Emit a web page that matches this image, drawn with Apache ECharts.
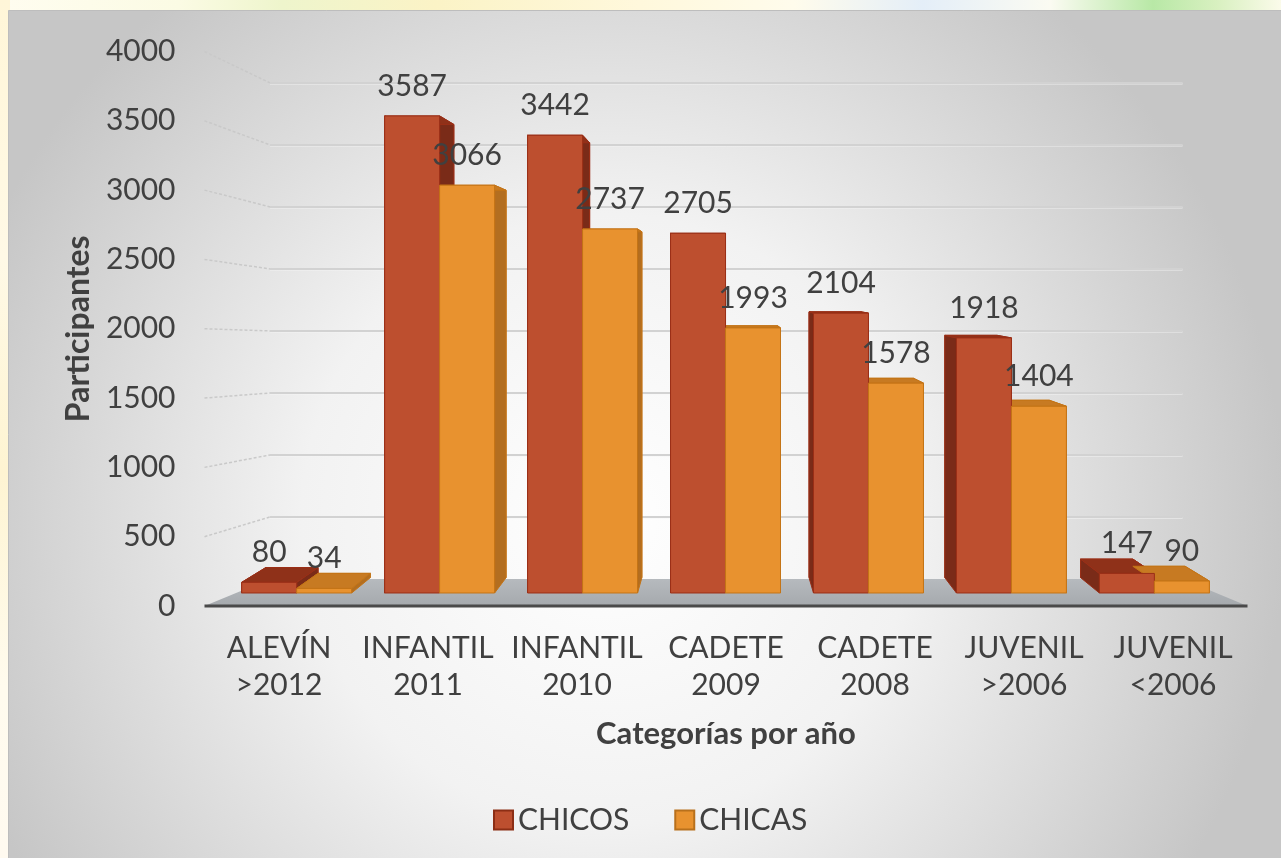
<!DOCTYPE html>
<html>
<head>
<meta charset="utf-8">
<script src="https://cdn.jsdelivr.net/npm/echarts@6.0.0/dist/echarts.min.js"></script>
<style>
  html, body { margin: 0; padding: 0; width: 1281px; height: 858px; overflow: hidden; }
  body {
    background: linear-gradient(90deg, #fffdf0 0%, #fbfbe4 14%, #eef5cc 22%, #fbf3c6 34%, #fff8dc 50%, #fffcec 62%, #e4eef8 72%, #fbfbf2 82%, #b8e8a6 90%, #d8f0c0 95%, #fbfbea 100%);
  }
  #left { position: absolute; left: 0; top: 0; width: 10px; height: 858px;
    background: linear-gradient(180deg, #fff6d8 0%, #fff9e6 30%, #fef4d2 55%, #fffbee 80%, #fffaf0 100%); }
  #main { position: absolute; left: 0; top: 0; width: 1281px; height: 858px; }
</style>
</head>
<body>
<div id="left"></div>
<div id="main"></div>
<script>
// ---------------- data ----------------
const categories = ['ALEVÍN\n>2012', 'INFANTIL\n2011', 'INFANTIL\n2010', 'CADETE\n2009', 'CADETE\n2008', 'JUVENIL\n>2006', 'JUVENIL\n<2006'];
const chicos = [80, 3587, 3442, 2705, 2104, 1918, 147];
const chicas = [34, 3066, 2737, 1993, 1578, 1404, 90];
const yTicks = [0, 500, 1000, 1500, 2000, 2500, 3000, 3500, 4000];
const seriesNames = ['CHICOS', 'CHICAS'];
const yTitle = 'Participantes';
const xTitle = 'Categorías por año';

// ---------------- style ----------------
const FONT = 'Lato, "Open Sans", "DejaVu Sans", sans-serif';
const TXT = '#404040';
const FS = 30;
const palette = [
  { front: '#BD4F2F', side: '#7a2b18', top: '#8f3119', back: '#8a301a', edge: '#9a2f17', legendBorder: '#8c2e15' },
  { front: '#E8922F', side: '#b36e20', top: '#c77a22', back: '#b06a1c', edge: '#c47416', legendBorder: '#b8701c' }
];

// perspective planes (layout constants)
function barFront(p) { return [29 + 0.9594 * p[0], 11.6 + 0.9594 * p[1]]; }
function barBack(p) { const q = barFront(p); return [724 + (q[0] - 724) * 0.95, 286 + (q[1] - 286) * 0.95]; }
function wallBack(p) { return [91 + 0.875 * p[0], 36.8 + 0.8947 * p[1]]; }

function makeBarRenderer(sIdx) {
  const c = palette[sIdx];
  return function (params, api) {
    const i = api.value(0), v = api.value(1);
    const base = api.coord([i, 0]);
    const top = api.coord([i, v]);
    const bw = api.size([1, 0])[0];
    const w = bw * 0.3846;
    const xl = sIdx === 0 ? base[0] - w : base[0];
    const xr = xl + w;
    const fr = [[xl, base[1]], [xr, base[1]], [xr, top[1]], [xl, top[1]]];
    const f = fr.map(barFront);
    const b = fr.map(barBack);
    const poly = (pts, fill, z2) => ({
      type: 'polygon', shape: { points: pts }, z2: z2,
      style: { fill: fill, stroke: c.edge, lineWidth: 1 }
    });
    return {
      type: 'group',
      children: [
        poly(b, c.back, 1),
        poly([f[0], f[3], b[3], b[0]], c.side, 2),
        poly([f[1], f[2], b[2], b[1]], c.side, 2),
        poly([f[3], f[2], b[2], b[3]], c.top, 5),
        poly(f, c.front, 10),
        {
          type: 'text', z2: 100,
          style: {
            text: String(v), x: (f[0][0] + f[1][0]) / 2, y: f[3][1] - 30,
            align: 'center', verticalAlign: 'middle',
            fontSize: FS, fontFamily: FONT, fill: TXT
          }
        }
      ]
    };
  };
}

function wallRenderer(params, api) {
  const v = api.value(1);
  const p = api.coord([0, v]);
  const bw = api.size([1, 0])[0];
  const xL = p[0] - bw / 2;
  const xR = xL + bw * categories.length;
  const y = p[1];
  const bl = wallBack([xL, y]);
  const br = wallBack([xR, y]);
  const children = [];
  if (v === 0) {
    children.push({
      type: 'polygon', z2: 3,
      shape: { points: [[xL, y], [xR, y], br, bl] },
      style: { fill: new echarts.graphic.LinearGradient(0, 0, 0, 1, [
        { offset: 0, color: '#b6babe' }, { offset: 1, color: '#a5a9ad' }]) }
    });
    children.push({
      type: 'line', z2: 4,
      shape: { x1: xL, y1: y, x2: xR, y2: y },
      style: { stroke: '#4a4a4a', lineWidth: 3 }
    });
  } else {
    children.push({
      type: 'line', z2: 1,
      shape: { x1: xL, y1: y, x2: bl[0], y2: bl[1] },
      style: { stroke: '#c9c9c9', lineWidth: 1.5, lineDash: [3, 2] }
    });
    children.push({
      type: 'line', z2: 1,
      shape: { x1: bl[0], y1: bl[1] + 1, x2: br[0], y2: br[1] + 1 },
      style: { stroke: '#f6f6f6', lineWidth: 1 }
    });
    children.push({
      type: 'line', z2: 2,
      shape: { x1: bl[0], y1: bl[1], x2: br[0], y2: br[1] },
      style: { stroke: '#d2d2d2', lineWidth: 2 }
    });
  }
  return { type: 'group', children: children };
}

const chart = echarts.init(document.getElementById('main'), null, { renderer: 'canvas' });
chart.setOption({
  backgroundColor: 'transparent',
  animation: false,
  textStyle: { fontFamily: FONT },
  graphic: [{
    type: 'rect', left: 8, top: 10, z: -100, silent: true,
    shape: { width: 1273, height: 848 },
    style: {
      fill: new echarts.graphic.RadialGradient(0.47, 0.6, 0.8, [
        { offset: 0, color: '#ffffff' },
        { offset: 0.45, color: '#f2f2f2' },
        { offset: 1, color: '#c6c6c6' }
      ]),
      stroke: '#bdbdbd', lineWidth: 1
    }
  }],
  grid: { left: 204.5, right: 33.5, top: 51.5, bottom: 252, containLabel: false, outerBoundsMode: 'none' },
  legend: {
    left: 488, top: 799, icon: 'rect', itemWidth: 19, itemHeight: 19, itemGap: 45,
    textStyle: { fontSize: FS, color: TXT, fontFamily: FONT, lineHeight: 32 },
    data: seriesNames.map((n, k) => ({
      name: n,
      itemStyle: { color: palette[k].front, borderColor: palette[k].legendBorder, borderWidth: 2 }
    }))
  },
  xAxis: {
    type: 'category', data: categories,
    name: xTitle, nameLocation: 'middle', nameGap: 112,
    nameTextStyle: { fontSize: 31, fontWeight: 'bold', color: TXT, fontFamily: FONT },
    axisLine: { show: false }, axisTick: { show: false },
    axisLabel: { fontSize: FS, color: TXT, fontFamily: FONT, lineHeight: 37, margin: 24, interval: 0 },
    splitLine: { show: false }
  },
  yAxis: {
    type: 'value', min: 0, max: 4000, interval: 500,
    name: yTitle, nameLocation: 'middle', nameGap: 105, nameRotate: 90,
    nameTextStyle: { fontSize: 32, fontWeight: 'bold', color: TXT, fontFamily: FONT },
    axisLine: { show: false }, axisTick: { show: false },
    axisLabel: { fontSize: FS, color: TXT, fontFamily: FONT, margin: 29, formatter: v => String(v) },
    splitLine: { show: false }
  },
  series: [
    {
      type: 'custom', name: 'walls', z: 1, silent: true,
      renderItem: wallRenderer,
      encode: { x: 0, y: 1 },
      data: yTicks.map(v => [0, v])
    },
    {
      type: 'custom', name: seriesNames[0], z: 2,
      itemStyle: { color: palette[0].front },
      renderItem: makeBarRenderer(0),
      encode: { x: 0, y: 1 },
      data: chicos.map((v, i) => [i, v])
    },
    {
      type: 'custom', name: seriesNames[1], z: 2,
      itemStyle: { color: palette[1].front },
      renderItem: makeBarRenderer(1),
      encode: { x: 0, y: 1 },
      data: chicas.map((v, i) => [i, v])
    }
  ]
});
</script>
</body>
</html>
